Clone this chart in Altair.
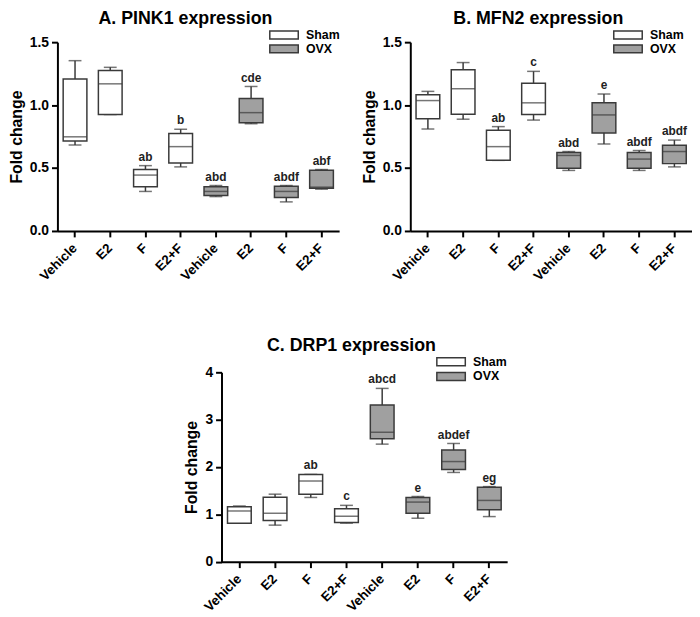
import altair as alt
import pandas as pd

treatments = ["Vehicle", "E2", "F", "E2+F"]
groups = ["Sham"] * 4 + ["OVX"] * 4
keys = treatments + [t + " " for t in treatments]

# Panel A: PINK1
pink1_wlo = [0.683, 0.925, 0.314, 0.509, 0.273, 0.852, 0.231, 0.332]
pink1_q1 = [0.714, 0.925, 0.351, 0.540, 0.281, 0.860, 0.265, 0.340]
pink1_med = [0.748, 1.169, 0.444, 0.670, 0.314, 0.940, 0.314, 0.348]
pink1_q3 = [1.208, 1.275, 0.488, 0.774, 0.351, 1.052, 0.356, 0.483]
pink1_whi = [1.353, 1.300, 0.519, 0.808, 0.361, 1.148, 0.361, 0.488]
pink1_sig = ["", "", "ab", "b", "abd", "cde", "abdf", "abf"]

# Panel B: MFN2
mfn2_wlo = [0.810, 0.888, 0.561, 0.881, 0.481, 0.691, 0.481, 0.509]
mfn2_q1 = [0.891, 0.927, 0.561, 0.925, 0.499, 0.779, 0.499, 0.535]
mfn2_med = [1.036, 1.130, 0.670, 1.018, 0.600, 0.922, 0.571, 0.631]
mfn2_q3 = [1.083, 1.281, 0.800, 1.174, 0.623, 1.018, 0.623, 0.681]
mfn2_whi = [1.109, 1.338, 0.829, 1.268, 0.631, 1.088, 0.639, 0.722]
mfn2_sig = ["", "", "ab", "c", "abd", "e", "abdf", "abdf"]

# Panel C: DRP1
drp1_wlo = [0.814, 0.772, 1.357, 0.814, 2.483, 0.918, 1.885, 0.953]
drp1_q1 = [0.814, 0.870, 1.426, 0.828, 2.595, 1.023, 1.948, 1.099]
drp1_med = [1.071, 1.023, 1.704, 0.960, 2.734, 1.259, 2.115, 1.294]
drp1_q3 = [1.162, 1.363, 1.843, 1.120, 3.310, 1.357, 2.358, 1.572]
drp1_whi = [1.176, 1.426, 1.843, 1.190, 3.660, 1.377, 2.497, 1.586]
drp1_sig = ["", "", "ab", "c", "abcd", "e", "abdef", "eg"]

FONT = "Liberation Sans"
LINE = "#3a3a3a"
GRAY = "#a0a0a0"
LEG_PATH = "M-3.6,-1L3.6,-1L3.6,1L-3.6,1Z"


def panel(title, wlo, q1, med, q3, whi, sig, ymax, yticks, yfmt, width, height,
          lx, ly, rowpad, toff):
    df = pd.DataFrame({"key": keys, "grp": groups, "wlo": wlo, "q1": q1,
                       "med": med, "q3": q3, "whi": whi, "sig": sig})
    base = alt.Chart(df).encode(
        x=alt.X("key:N", sort=keys,
                scale=alt.Scale(paddingInner=0, paddingOuter=0),
                axis=alt.Axis(title=None, labelAngle=-45, labelExpr="trim(datum.label)",
                              labelAlign="right", labelBaseline="middle", labelPadding=9,
                              labelFontSize=13.5))
    )
    yscale = alt.Scale(domain=[0, ymax], nice=False, zero=True)
    whisk = base.mark_rule(color=LINE, strokeWidth=1.5).encode(
        y=alt.Y("wlo:Q", scale=yscale,
                axis=alt.Axis(title="Fold change", values=yticks, format=yfmt,
                              titlePadding=5, labelFontSize=14)),
        y2="whi:Q")
    caps_hi = base.mark_tick(size=13, thickness=1.5, color=LINE).encode(y="whi:Q")
    caps_lo = base.mark_tick(size=13, thickness=1.5, color=LINE).encode(y="wlo:Q")
    box = base.mark_bar(size=24, stroke=LINE, strokeWidth=1.5, opacity=1).encode(
        y="q1:Q", y2="q3:Q",
        color=alt.Color("grp:N",
                        scale=alt.Scale(domain=["Sham", "OVX"], range=["white", GRAY]),
                        legend=alt.Legend(title=None, orient="none", legendX=lx, legendY=ly,
                                          direction="vertical", symbolType=LEG_PATH,
                                          symbolSize=64, symbolStrokeColor=LINE,
                                          symbolStrokeWidth=1.5, symbolOpacity=1,
                                          labelFont=FONT, labelFontSize=12.5,
                                          labelFontWeight="bold", labelColor="black",
                                          labelOffset=16, rowPadding=rowpad, padding=0)))
    median = base.mark_tick(size=24, thickness=1.5, color=LINE).encode(y="med:Q")
    text = base.mark_text(dy=-5, baseline="alphabetic", font=FONT, fontSize=12,
                          fontWeight="bold", color="#222").encode(y="whi:Q", text="sig:N")
    return alt.layer(whisk, caps_hi, caps_lo, box, median, text).properties(
        width=width, height=height,
        title=alt.TitleParams(title, fontSize=18, fontWeight="bold", font=FONT,
                              anchor="middle", frame="group", dx=-13, offset=toff,
                              baseline="top", color="black"))


chartA = panel("A. PINK1 expression", pink1_wlo, pink1_q1, pink1_med, pink1_q3, pink1_whi,
               pink1_sig, 1.5, [0, 0.5, 1.0, 1.5], ".1f", 285, 191, 223, -13.5, -2, 1)
chartB = panel("B. MFN2 expression", mfn2_wlo, mfn2_q1, mfn2_med, mfn2_q3, mfn2_whi,
               mfn2_sig, 1.5, [0, 0.5, 1.0, 1.5], ".1f", 285, 191, 214, -13.5, -2, 1)
chartC = panel("C. DRP1 expression", drp1_wlo, drp1_q1, drp1_med, drp1_q3, drp1_whi,
               drp1_sig, 4, [0, 1, 2, 3, 4], "d", 289, 191.6, 226, -17, 0, 1)

spacer = alt.Chart(pd.DataFrame({"v": [0]})).mark_point(opacity=0).encode(
    x=alt.value(0), y=alt.value(0)).properties(width=128, height=10)

top = alt.hconcat(chartA, chartB, spacing=21).resolve_scale(color="independent")
bottom = alt.hconcat(spacer, chartC, spacing=0).resolve_scale(color="independent")

chart = alt.vconcat(top, bottom, spacing=54).resolve_scale(color="independent").properties(
    padding={"left": 0, "top": -2, "right": 0, "bottom": 0}
).configure_view(stroke=None).configure_axis(
    domainColor="black", domainWidth=2, tickColor="black", tickWidth=2, tickSize=6,
    labelFont=FONT, labelFontSize=13, labelFontWeight="bold", labelColor="black",
    titleFont=FONT, titleFontSize=16, titleFontWeight="bold", titleColor="black",
    grid=False
).configure_axisY(labelPadding=3)

chart.save("out.html", embed_options={"renderer": "svg", "actions": False})
